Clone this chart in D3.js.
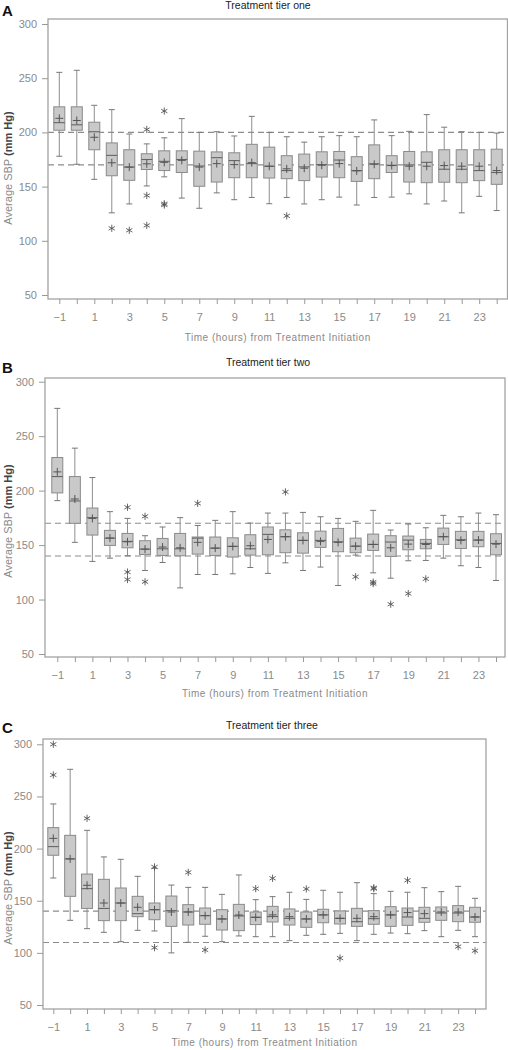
<!DOCTYPE html>
<html><head><meta charset="utf-8">
<script src="https://cdn.jsdelivr.net/npm/d3@7"></script>
<style>
html,body{margin:0;padding:0;background:#fff;}
svg{display:block;}
</style></head>
<body>
<svg id="chart" width="508" height="1050"></svg>
<script>
// ---------------- DATA ----------------
const hours = d3.range(-1, 25);
const yTicks = [50, 100, 150, 200, 250, 300];
const xLabelHours = hours.filter(h => Math.abs(h) % 2 === 1);

const panelLetters = ["A", "B", "C"];
const panelTitles = ["Treatment tier one", "Treatment tier two", "Treatment tier three"];
const xAxisTitle = "Time (hours) from Treatment Initiation";

// Tier one
const tier1Low    = [178,170.6,156.7,125.8,134,150.6,159,139.4,130,144.2,137.9,140,134.2,140,134,137.9,140.3,133,140,140.3,143.3,134,136.7,125.8,141,127.9];
const tier1Q1     = [202,202,184,160,155.8,165.8,164.8,163,150.3,154.2,158.2,158.2,157.9,157.3,155.5,158.8,158.2,154.8,157.3,163,154.2,153.6,154,153.6,155.5,152.1];
const tier1Median = [209,207,200.6,178.8,168,175,173.3,175,169,176.7,174,171.2,168.8,164.8,168.2,170.3,174.5,164.8,171,169.7,170,172.4,166,166,164.8,163];
const tier1Q3     = [223.6,223.6,209.4,190.3,184,180.3,183,183,182.7,182,181.2,189,186.4,178.5,180,182.1,182.4,177.6,188.5,178.5,182.4,182.1,184,184,184,184.5];
const tier1High   = [255.4,257.3,225,221,198.5,189.4,195,212.7,200,200.6,196.7,214.8,200,196,191,196,197,196,211.5,197,201,216.4,204.8,200.6,200,199.4];
const tier1Mean   = [213,211,195.5,172,168,171,172.4,174.2,168,171.2,170.3,172.1,168.8,166.4,167,169.7,171.2,164.5,170.6,169.4,168.8,168.8,169.4,168.8,168.8,164.8];
const tier1Outliers = [[2,111.5],[3,109.7],[4,202.7],[4,141.8],[4,114.2],[5,219.7],[5,134.2],[5,133],[12,123]];
const tier1RefLines = [200, 170];

// Tier two
const tier2Low    = [190.8,152.5,135,138,140.2,126.7,134,110.7,123,123,123.6,129.4,124,133.7,126.7,129.8,112.9,140.8,124.5,119.6,135.6,135.9,138,131,129.4,117.5];
const tier2Q1     = [197.9,170,159.2,149.7,147.5,141.4,140.5,140.2,141.7,140.5,139,140.8,141.1,143,142.6,147.9,143.9,143,145.1,139.6,145.7,146.6,150.6,146.9,148.5,141.1];
const tier2Median = [212.9,190.5,175.2,156.4,153.4,146.3,146.6,146.6,156.4,147.2,148.8,146.6,159.8,157.7,154.3,154.3,153,149,150.6,152.8,154.6,151.5,157.7,154.9,154.6,151.5];
const tier2Q3     = [230.4,212.9,184,163.5,160.7,154,156.1,160.7,157.4,157.4,156.7,159.5,166.6,164,161.3,162.8,165.3,156.4,160.1,158.6,158.3,155.2,165.6,162.6,162.6,160.4];
const tier2High   = [275.5,239,212,180.7,174.5,158.6,166.6,175.2,168,172.7,180.7,170.2,179.4,179.4,180,176,174.5,171.8,181.9,163.8,169.3,165.9,177.3,176,179.4,177.9];
const tier2Mean   = [217.2,192.3,174.5,156.4,153,146.3,148.2,147.5,152.5,147.2,148.8,149.4,155.2,157.7,154.3,153.4,152.5,149,150.6,147.5,150.9,150.6,157.7,154.3,154.6,150.9];
const tier2Outliers = [[3,184.7],[3,125.2],[3,118.4],[4,176.4],[4,116.3],[7,188.3],[12,198.8],[16,120.9],[17,116],[17,114.6],[18,95.7],[19,105.5],[20,119]];
const tier2RefLines = [170, 140];

// Tier three
const tier3Low    = [171.8,131.2,123.2,119.7,110.7,121.6,121,100,110.1,115.9,110.7,116.2,115.5,115.5,111.7,116.8,117.8,118.7,111.7,117.8,119,118.4,121.3,115.5,121.6,115.5];
const tier3Q1     = [193.6,154.2,142.6,130.9,130.9,134.7,131.8,125.4,126.7,127.4,121.9,121.3,127.1,129.6,126.7,124.5,128.9,127.7,125.4,127.4,125.4,126.4,129.3,131.2,129.9,129.3];
const tier3Median = [201.9,190.1,161.6,142.6,147.8,137.6,141.4,140.5,139.2,135.7,132.5,135.4,134.1,134.8,133.1,132.5,136.4,133.1,129.9,132.8,136.4,134.4,133.1,138.2,138.2,134.4];
const tier3Q3     = [220.1,212.7,175.6,170.5,162.2,154.2,147.8,154.5,146.2,143,141.4,146.5,139.2,144.6,142.1,139.2,141.8,140.2,142.7,140.5,144.3,143,143.7,144,145.3,143.7];
const tier3High   = [242.8,276,217.5,192,189.7,173.4,181.1,165,162.8,162.8,156.1,174.7,151,153.9,158.1,151.3,160,158.1,167.3,156.8,159,158.1,162.5,158.7,163.8,152.3];
const tier3Mean   = [209.8,190.1,164.8,147.8,147.8,143.7,141.4,139.2,139.2,135.7,132.5,136.3,134.1,136.4,134.7,132.5,136.4,133.1,133.1,134.7,136.4,138.6,137.6,139.2,139.2,134.4];
const tier3Outliers = [[-1,300],[-1,270.6],[1,229],[5,182.4],[5,105],[7,177.2],[8,102.8],[11,161.6],[12,171.5],[14,161.3],[16,95],[18,161.6],[18,162.4],[20,169.6],[23,106],[24,102]];
const tier3RefLines = [140, 110];

// ---------------- LAYOUT ----------------
const layouts = [
  {left:48, right:507.5, top:19,  bottom:299,  yTop:24,    yBot:295,  x0:59.3, x1:496.7, titleX:268, titleY:9,   letterY:16,  yTitleC:168, xTitleY:341},
  {left:45, right:505,   top:378, bottom:657,  yTop:381.7, yBot:654,  x0:57.3, x1:496,   titleX:268, titleY:366, letterY:373, yTitleC:521, xTitleY:697},
  {left:43, right:486,   top:739, bottom:1009, yTop:744.3, yBot:1005, x0:53.3, x1:475,   titleX:272, titleY:729, letterY:733, yTitleC:888, xTitleY:1046}
];

const tiers = [
  {low:tier1Low, q1:tier1Q1, med:tier1Median, q3:tier1Q3, high:tier1High, mean:tier1Mean, out:tier1Outliers, refs:tier1RefLines},
  {low:tier2Low, q1:tier2Q1, med:tier2Median, q3:tier2Q3, high:tier2High, mean:tier2Mean, out:tier2Outliers, refs:tier2RefLines},
  {low:tier3Low, q1:tier3Q1, med:tier3Median, q3:tier3Q3, high:tier3High, mean:tier3Mean, out:tier3Outliers, refs:tier3RefLines}
];

const svg = d3.select("#chart");
const FONT = "'Liberation Sans', Arial, sans-serif";
const GRAY = "#8a8a8a";

function fmtHour(h){ return h < 0 ? "\u2212" + Math.abs(h) : String(h); }

tiers.forEach((t, i) => {
  const L = layouts[i];
  const g = svg.append("g");
  const x = d3.scaleLinear().domain([-1, 24]).range([L.x0, L.x1]);
  const y = d3.scaleLinear().domain([50, 300]).range([L.yBot, L.yTop]);

  // letter + title
  g.append("text").attr("x", 2).attr("y", L.letterY).text(panelLetters[i])
    .attr("font-family", FONT).attr("font-weight", "bold").attr("font-size", 15).attr("fill", "#111");
  g.append("text").attr("x", L.titleX).attr("y", L.titleY).attr("text-anchor", "middle")
    .text(panelTitles[i]).attr("font-family", FONT).attr("font-size", 10.5).attr("fill", "#222");

  // reference dashed lines
  g.selectAll(".ref").data(t.refs).enter().append("line")
    .attr("x1", L.left).attr("x2", L.right)
    .attr("y1", d => y(d)).attr("y2", d => y(d))
    .attr("stroke", "#8c8c8c").attr("stroke-width", 1.1).attr("stroke-dasharray", "6,4");

  const rows = hours.map((h, k) => ({h, low:t.low[k], q1:t.q1[k], med:t.med[k], q3:t.q3[k], high:t.high[k], mean:t.mean[k]}));
  const bw = 11, cw = 6;
  const bx = g.selectAll(".bx").data(rows).enter().append("g");
  // whiskers
  bx.append("line").attr("x1", d => x(d.h)).attr("x2", d => x(d.h))
    .attr("y1", d => y(d.high)).attr("y2", d => y(d.q3)).attr("stroke", "#8e8e8e");
  bx.append("line").attr("x1", d => x(d.h)).attr("x2", d => x(d.h))
    .attr("y1", d => y(d.q1)).attr("y2", d => y(d.low)).attr("stroke", "#8e8e8e");
  bx.append("line").attr("x1", d => x(d.h) - cw/2).attr("x2", d => x(d.h) + cw/2)
    .attr("y1", d => y(d.high)).attr("y2", d => y(d.high)).attr("stroke", "#777");
  bx.append("line").attr("x1", d => x(d.h) - cw/2).attr("x2", d => x(d.h) + cw/2)
    .attr("y1", d => y(d.low)).attr("y2", d => y(d.low)).attr("stroke", "#777");
  // box
  bx.append("rect").attr("x", d => x(d.h) - bw/2).attr("width", bw)
    .attr("y", d => y(d.q3)).attr("height", d => y(d.q1) - y(d.q3))
    .attr("fill", "#c9c9c9").attr("stroke", "#8a8a8a").attr("stroke-width", 1);
  // median
  bx.append("line").attr("x1", d => x(d.h) - bw/2).attr("x2", d => x(d.h) + bw/2)
    .attr("y1", d => y(d.med)).attr("y2", d => y(d.med)).attr("stroke", "#666").attr("stroke-width", 1.1);
  // mean +
  bx.append("path").attr("d", d => {
      const cx = x(d.h), cy = y(d.mean);
      return `M${cx-4},${cy}H${cx+4}M${cx},${cy-4}V${cy+4}`;
    }).attr("stroke", "#555").attr("stroke-width", 1);

  // outliers (asterisk)
  g.selectAll(".out").data(t.out).enter().append("path")
    .attr("d", d => {
      const cx = x(d[0]), cy = y(d[1]), r = 3.6;
      const a = r * Math.cos(Math.PI/6), b = r * Math.sin(Math.PI/6);
      return `M${cx},${cy-r}V${cy+r}M${cx-a},${cy-b}L${cx+a},${cy+b}M${cx-a},${cy+b}L${cx+a},${cy-b}`;
    }).attr("stroke", "#555").attr("stroke-width", 0.9).attr("fill", "none");

  // frame
  g.append("rect").attr("x", L.left).attr("y", L.top)
    .attr("width", L.right - L.left).attr("height", L.bottom - L.top)
    .attr("fill", "none").attr("stroke", "#a3a3a3").attr("stroke-width", 1.3);

  // y axis
  const ya = g.append("g").attr("transform", `translate(${L.left},0)`)
    .call(d3.axisLeft(y).tickValues(yTicks).tickSize(6).tickPadding(5).tickFormat(d3.format("d")));
  ya.select(".domain").remove();
  ya.selectAll("line").attr("stroke", "#999");
  ya.selectAll("text").attr("font-family", FONT).attr("font-size", 11).attr("fill", GRAY);

  // x axis
  const xa = g.append("g").attr("transform", `translate(0,${L.bottom})`)
    .call(d3.axisBottom(x).tickValues(hours).tickSize(5).tickPadding(9)
      .tickFormat(h => xLabelHours.includes(h) ? fmtHour(h) : ""));
  xa.select(".domain").remove();
  xa.selectAll("line").attr("stroke", "#999");
  xa.selectAll("text").attr("font-family", FONT).attr("font-size", 11).attr("fill", GRAY);

  // x title
  g.append("text").attr("x", (L.left + L.right) / 2).attr("y", L.xTitleY)
    .attr("text-anchor", "middle").text(xAxisTitle)
    .attr("font-family", FONT).attr("font-size", 10).attr("letter-spacing", 0.5).attr("fill", GRAY);

  // y title
  const yt = g.append("text").attr("transform", `translate(12,${L.yTitleC}) rotate(-90)`)
    .attr("text-anchor", "middle").attr("font-family", FONT).attr("font-size", 11);
  yt.append("tspan").text("Average SBP ").attr("fill", GRAY);
  yt.append("tspan").text("(mm Hg)").attr("fill", "#444").attr("font-weight", "bold");
});
</script>
</body></html>
